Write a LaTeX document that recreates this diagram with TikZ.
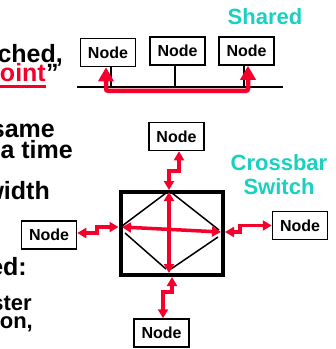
\documentclass[tikz,border=0pt]{standalone}
\usepackage{fontspec}
\setmainfont{Liberation Sans}
\usetikzlibrary{arrows.meta}
\definecolor{myred}{RGB}{245,0,45}
\definecolor{myteal}{RGB}{26,208,190}
\begin{document}
\begin{tikzpicture}[x=1pt,y=-1pt,
  nodebox/.style={draw,line width=1.5pt,minimum width=55pt,minimum height=28pt,inner sep=0pt,font=\bfseries\fontsize{16}{18}\selectfont},
  bigtxt/.style={inner sep=0pt,font=\bfseries\fontsize{25}{28}\selectfont,anchor=base east},
  subtxt/.style={inner sep=0pt,font=\bfseries\fontsize{22}{26}\selectfont,anchor=base east},
  tealtxt/.style={inner sep=0pt,text=myteal,font=\bfseries\fontsize{22}{26}\selectfont,anchor=base},
  busarrow/.style={myred,line width=4.5pt,{Triangle[width=15pt,length=14pt]}-{Triangle[width=15pt,length=14pt]}},
  xarrow/.style={myred,line width=3.5pt,{Triangle[width=10pt,length=9pt]}-{Triangle[width=10pt,length=9pt]}},
  wire/.style={line width=2pt},
  diag/.style={line width=1.5pt}]
\useasboundingbox (0,0) rectangle (336,349);

% left text (cut off at the left edge)
\node[bigtxt] (t1) at (63,62) {ched,};
\node[bigtxt,text=myred] (t2) at (46,81) {oint};
\node[inner sep=0pt,anchor=base west,font=\bfseries\fontsize{25}{28}\selectfont] (t2q) at (t2.base east) {”};
\draw[myred,line width=3pt] ([yshift=-5.5pt]t2.base west) -- ([yshift=-5.5pt]t2.base east);
\node[bigtxt] (t3) at (55,137) {same};
\node[bigtxt] (t4) at (73,158) {a time};
\node[bigtxt] (t5) at (50,199) {width};
\node[bigtxt] (t6) at (27,275) {ed:};
\node[subtxt] (t7) at (32,310) {ster};
\node[subtxt] (t8) at (33,328) {on,};

% teal labels
\node[tealtxt] (sh) at (265,24) {Shared};
\node[tealtxt] (cb) at (279,170) {Crossbar};
\node[tealtxt] (swl) at (279,194) {Switch};

% shared bus
\node[nodebox] (n1) at (108,52.5) {Node};
\node[nodebox] (n2) at (177.5,51) {Node};
\node[nodebox] (n3) at (246.5,51) {Node};
\coordinate (busL) at (77,87);
\coordinate (busR) at (283,87);
\draw[wire] (busL) -- (busR);
\draw[wire] ([xshift=3pt]n1.south) -- ([xshift=3pt]n1.south |- busL);
\draw[wire] ([xshift=-2.5pt]n2.south) -- ([xshift=-2.5pt]n2.south |- busL);
\draw[wire] ([xshift=-2.5pt]n3.south) -- ([xshift=-2.5pt]n3.south |- busL);
\draw[busarrow,rounded corners=2pt] ([xshift=-2pt]n1.south) -- ++(0,23.5) -| ([xshift=1.5pt]n3.south);

% crossbar switch
\node[nodebox] (nt) at (176.5,136.5) {Node};
\node[nodebox] (nl) at (49,235) {Node};
\node[nodebox] (nr) at (300,225.5) {Node};
\node[nodebox] (nb) at (161.5,333) {Node};
\node[draw,line width=4pt,minimum width=102pt,minimum height=83pt,inner sep=0pt] (swbox) at (171.5,233.5) {};

\draw[diag] (122,226) -- (166,193);
\draw[diag] (172,193) -- (219,230);
\draw[diag] (125,233) -- (166,269);
\draw[diag] (171,269) -- (218,237);

\coordinate (pT) at (169,192);
\coordinate (pB) at (169,273);
\coordinate (pL) at (122,227);
\coordinate (pR) at (221,232);
\draw[xarrow] (pT) -- (pB);
\draw[xarrow] (pL) -- (pR);

\coordinate (swT) at (169,190);
\coordinate (swL) at (118.5,227);
\coordinate (swR) at (225,232);
\coordinate (swB) at (172,277);
\draw[xarrow] ([xshift=2.5pt]nt.south) -- ++(0,19.5) -| (swT);
\draw[xarrow] ([yshift=2pt]nl.east) -- (97,233) |- (swL);
\draw[xarrow] (swR) -- (240,232) |- (nr.west);
\draw[xarrow] (swB) -- (172,292) -| ([xshift=1.5pt]nb.north);
\end{tikzpicture}
\end{document}
